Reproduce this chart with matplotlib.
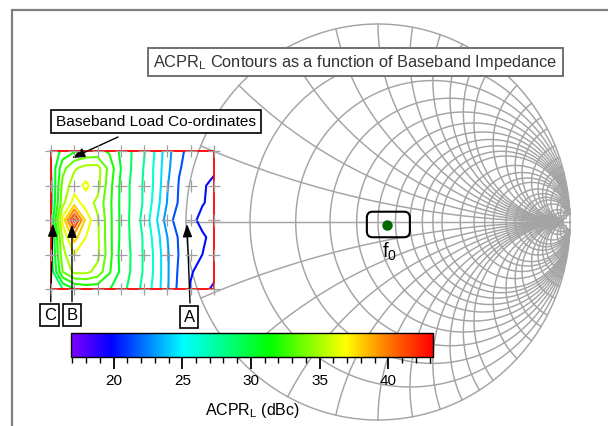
import numpy as np
import matplotlib
matplotlib.use('Agg')
import matplotlib.pyplot as plt
from matplotlib.colors import LinearSegmentedColormap, Normalize
from matplotlib.patches import Rectangle, FancyBboxPatch
from matplotlib.cm import ScalarMappable

plt.rcParams['font.family'] = ['Liberation Sans', 'DejaVu Sans']
plt.rcParams['mathtext.fontset'] = 'custom'
plt.rcParams['mathtext.rm'] = 'Liberation Sans'
plt.rcParams['mathtext.it'] = 'Liberation Sans:italic'
plt.rcParams['mathtext.bf'] = 'Liberation Sans:bold'

W, H = 608, 426

# smith chart grid (normalised impedance)
resistance_values = [0.2, 0.4, 0.6, 0.8, 1.0, 1.2, 1.4, 1.6, 1.8, 2.0, 2.5, 3.0, 3.5, 4.0,
                     5.0, 6.0, 7.0, 8.0, 10.0, 15.0, 20.0, 30.0, 50.0]
reactance_values = [0.2, 0.4, 0.6, 0.8, 1.0, 1.2, 1.4, 1.6, 1.8, 2.0, 2.5, 3.0, 3.5, 4.0,
                    5.0, 6.0, 7.0, 8.0, 10.0, 15.0, 20.0, 30.0, 50.0]
grid_limit = 50.0

# fundamental load (reflection coefficient)
f0_gamma = (0.048, -0.015)

# ACPR_L (dBc) read over the baseband load plane, rows top -> bottom
acpr = np.array([
    [29.0, 31.0, 31.8, 32.2, 32.4, 31.8, 30.2, 28.9, 27.6, 25.8, 23.6, 21.8, 21.1, 20.8, 20.6],
    [29.0, 33.0, 34.8, 35.6, 35.6, 33.0, 30.5, 28.8, 27.4, 25.6, 23.4, 21.6, 21.0, 20.5, 20.3],
    [28.5, 34.0, 35.8, 36.8, 35.6, 32.6, 30.2, 28.6, 27.3, 25.6, 23.1, 21.4, 20.7, 20.2, 19.6],
    [28.5, 34.5, 37.2, 35.8, 34.6, 32.4, 30.2, 28.6, 27.3, 25.3, 22.9, 21.3, 20.6, 20.1, 19.6],
    [29.0, 37.0, 43.0, 37.5, 35.2, 32.5, 30.2, 28.5, 27.0, 24.8, 22.2, 20.7, 20.4, 19.6, 19.7],
    [28.5, 35.2, 38.6, 36.5, 35.3, 32.5, 30.2, 28.6, 27.3, 25.3, 23.0, 21.3, 20.6, 20.2, 19.6],
    [28.5, 34.5, 36.5, 35.8, 35.4, 32.6, 30.0, 28.8, 27.3, 25.6, 23.2, 21.4, 20.5, 20.0, 19.4],
    [28.0, 33.5, 35.4, 35.4, 34.5, 32.2, 30.2, 28.7, 27.3, 25.6, 23.2, 21.2, 20.1, 19.6, 19.0],
    [27.5, 29.0, 30.5, 31.0, 31.0, 30.6, 29.6, 28.4, 27.0, 25.4, 23.2, 21.0, 19.9, 19.0, 18.2],
])
acpr_cols = np.arange(acpr.shape[1])
acpr_rows = np.arange(acpr.shape[0])
contour_levels = np.arange(18.5, 43.0, 1.5)

# measured baseband load points
meas_cols = np.arange(0, 15, 2)
meas_rows = np.arange(0, 9, 2)

cbar_min, cbar_max = 16.9, 43.25
cbar_major = [20, 25, 30, 35, 40]
cbar_minor = list(range(17, 44))

cmap = LinearSegmentedColormap.from_list('acpr', [
    (0.0, '#8000ff'), (0.11, '#0000ff'), (0.31, '#00ffff'), (0.55, '#00ff00'),
    (0.76, '#ffff00'), (0.87, '#ff8000'), (1.0, '#ff0000')])
norm = Normalize(cbar_min, cbar_max)


def px_rect(x0, y0, x1, y1):
    return [x0 / W, 1 - y1 / H, (x1 - x0) / W, (y1 - y0) / H]


def px(x, y):
    return (x / W, 1 - y / H)


def gamma(z):
    return (z - 1) / (z + 1)


fig = plt.figure(figsize=(W / 100, H / 100), dpi=100)
fig.patch.set_facecolor('white')

# outer frame (runs off the right and bottom of the picture)
fig.add_artist(Rectangle((11.5 / W, -1), 2, 2 - 9.5 / H, transform=fig.transFigure,
                         fill=False, ec='#808080', lw=1.6))

# smith chart
ax_s = fig.add_axes(px_rect(186, 24, 570, 420))
ax_s.set_xlim(-1, 1)
ax_s.set_ylim(-1, 1)
ax_s.axis('off')
grid_kw = dict(color='#a4a4a4', lw=1.05, clip_on=False, zorder=1)

t = np.linspace(-np.pi / 2, np.pi / 2, 1001)
g = gamma(1j * np.tan(t))
ax_s.plot(g.real, g.imag, **grid_kw)
ax_s.plot([-1, 1], [0, 0], **grid_kw)
for r in resistance_values:
    t = np.linspace(-np.arctan(grid_limit), np.arctan(grid_limit), 801)
    g = gamma(r + 1j * np.tan(t))
    ax_s.plot(g.real, g.imag, **grid_kw)
for x in reactance_values:
    t = np.linspace(0, np.arctan(grid_limit), 601)
    for sign in (1, -1):
        g = gamma(np.tan(t) + 1j * sign * x)
        ax_s.plot(g.real, g.imag, **grid_kw)

ax_s.plot(*f0_gamma, 'o', color='#006a00', ms=6.5, zorder=3)
ax_s.add_patch(FancyBboxPatch((f0_gamma[0] - 0.106, f0_gamma[1] - 0.062), 0.224, 0.129,
                              boxstyle='round,pad=0,rounding_size=0.03',
                              fill=False, ec='black', lw=1.5, zorder=3))
fig.text(*px(390, 258), r'$\mathrm{f}_{\mathrm{0}}$', fontsize=14.5,
         ha='center', va='baseline')

# inset: baseband load plane
ax_in = fig.add_axes(px_rect(51, 151, 214, 289))
ax_in.set_facecolor('none')
ax_in.set_xlim(0, acpr_cols[-1])
ax_in.set_ylim(acpr_rows[-1], 0)
ax_in.set_xticks([])
ax_in.set_yticks([])
for sp in ax_in.spines.values():
    sp.set_color('#ff0000')
    sp.set_linewidth(1.3)
ax_in.contour(acpr_cols, acpr_rows, acpr, levels=contour_levels,
              cmap=cmap, norm=norm, linewidths=1.5)
mc, mr = np.meshgrid(meas_cols, meas_rows)
ax_in.plot(mc.ravel(), mr.ravel(), '+', color='#a0a0a0', ms=8, mew=0.9,
           clip_on=False, zorder=5)

arrow_kw = dict(arrowstyle='-|>,head_length=0.55,head_width=0.2', color='black',
                lw=1.0, shrinkA=0, shrinkB=0, mutation_scale=14)
ax_in.annotate('', xy=(1.8, 0.41), xytext=px(118, 137),
               textcoords='figure fraction', arrowprops=arrow_kw)
ax_in.annotate('', xy=(0.17, 4.2), xytext=px(50.7, 301.7),
               textcoords='figure fraction', arrowprops=arrow_kw)
ax_in.annotate('', xy=(1.8, 4.26), xytext=px(72, 301.7),
               textcoords='figure fraction', arrowprops=arrow_kw)
ax_in.annotate('', xy=(11.68, 4.23), xytext=px(190, 303),
               textcoords='figure fraction', arrowprops=arrow_kw)

box_kw = dict(boxstyle='square,pad=0.22', fc='white', ec='black', lw=1.2)
for letter, (lx, ly) in zip(['C', 'B', 'A'], [(49.7, 315), (72.2, 315), (189.2, 317.3)]):
    fig.text(*px(lx, ly), letter, fontsize=12, ha='center', va='center', bbox=box_kw)

fig.text(*px(156, 121.5), 'Baseband Load Co-ordinates', fontsize=11.1,
         ha='center', va='center',
         bbox=dict(boxstyle='square,pad=0.3', fc='white', ec='black', lw=1.2))

fig.text(*px(355.5, 62), r'ACPR$_\mathrm{L}$ Contours as a function of Baseband Impedance',
         fontsize=11.8, ha='center', va='center', color='#333333',
         bbox=dict(boxstyle='square,pad=0.3', fc='white', ec='#707070', lw=1.4))

# colour bar
cax = fig.add_axes(px_rect(71, 333, 433, 357))
cb = fig.colorbar(ScalarMappable(norm=norm, cmap=cmap), cax=cax, orientation='horizontal')
cb.set_ticks(cbar_major)
cb.set_ticks(cbar_minor, minor=True)
cb.outline.set_linewidth(1.0)
cax.tick_params(which='major', direction='out', length=8.4, width=1.3, pad=3.5, labelsize=11)
cax.tick_params(which='minor', direction='out', length=4.1, width=1.0)
cb.set_label(r'ACPR$_\mathrm{L}$ (dBc)', fontsize=11.5, labelpad=10)

fig.savefig('out.png', dpi=100)
